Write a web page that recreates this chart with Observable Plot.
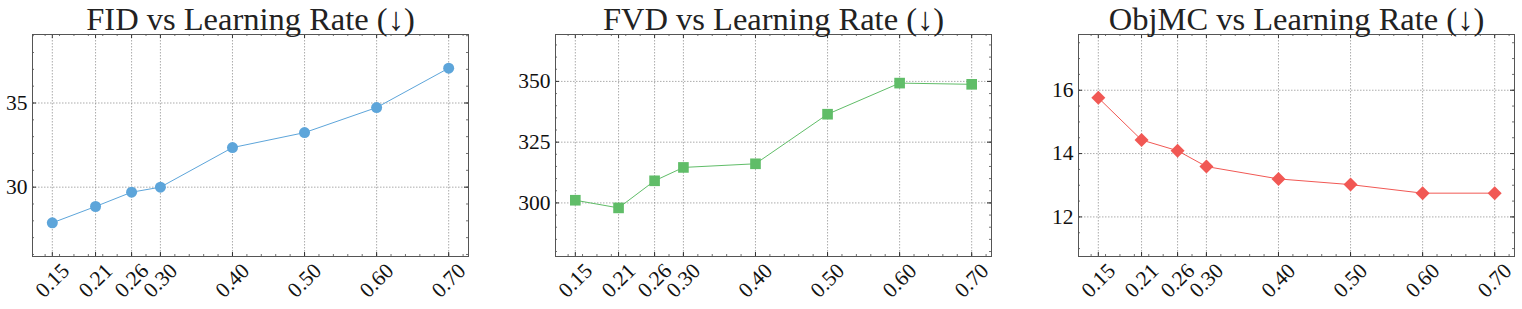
<!DOCTYPE html>
<html>
<head>
<meta charset="utf-8">
<script src="https://cdn.jsdelivr.net/npm/d3@7"></script>
<script src="https://cdn.jsdelivr.net/npm/@observablehq/plot@0.6"></script>
<style>
  html, body { margin: 0; padding: 0; background: #fff; }
  #root { position: relative; width: 1522px; height: 309px; overflow: hidden; background: #fff; }
</style>
</head>
<body>
<div id="root"></div>
<script>
// ---- data ----
const lr = [0.15, 0.21, 0.26, 0.30, 0.40, 0.50, 0.60, 0.70];
const lrLabels = ["0.15", "0.21", "0.26", "0.30", "0.40", "0.50", "0.60", "0.70"];
const fid = [27.88, 28.85, 29.70, 30.00, 32.35, 33.24, 34.73, 37.07];
const fvd = [301.1, 297.95, 309.1, 314.6, 316.1, 336.5, 349.3, 348.8];
const objmc = [15.76, 14.43, 14.09, 13.59, 13.20, 13.02, 12.75, 12.75];
const fidTicks = [30, 35];
const fvdTicks = [300, 325, 350];
const objmcTicks = [12, 14, 16];
const titles = ["FID vs Learning Rate (\u2193)", "FVD vs Learning Rate (\u2193)", "ObjMC vs Learning Rate (\u2193)"];

const FONT = '"Liberation Serif", "DejaVu Serif", serif';
const W = 436, H = 222;
const xdom = [0.1225, 0.7275];
const xMinor = d3.range(7, 37).map(k => k * 0.02);

const diamond = {
  draw(ctx, size) {
    const r = Math.sqrt(size) * 0.62625;
    ctx.moveTo(0, -r); ctx.lineTo(r, 0); ctx.lineTo(0, r); ctx.lineTo(-r, 0); ctx.closePath();
  }
};

function panel({title, values, color, symbol, r, yMajor, yMinorStep, pad, left}) {
  const data = lr.map((x, i) => ({x, y: values[i]}));
  const ydom = [d3.min(values) - pad, d3.max(values) + pad];
  const k0 = Math.ceil(ydom[0] / yMinorStep), k1 = Math.floor(ydom[1] / yMinorStep);
  const yMinor = d3.range(k0, k1 + 1).map(k => k * yMinorStep);
  const tickStroke = "#333";
  const plot = Plot.plot({
    width: W + 80, height: 309,
    marginLeft: 60, marginRight: 20, marginTop: 34, marginBottom: 53,
    x: {domain: xdom, axis: null},
    y: {domain: ydom, axis: null},
    style: {background: "transparent", fontFamily: FONT, overflow: "visible"},
    marks: [
      Plot.gridX(lr, {x: d => d, stroke: "#888", strokeOpacity: 1, strokeWidth: 0.7, strokeDasharray: "1.5,1.5"}),
      Plot.gridY(yMajor, {y: d => d, stroke: "#888", strokeOpacity: 1, strokeWidth: 0.7, strokeDasharray: "1.5,1.5"}),
      // minor ticks
      Plot.ruleX(xMinor, {x: d => d, insetTop: H - 2, stroke: tickStroke, strokeWidth: 0.7}),
      Plot.ruleX(xMinor, {x: d => d, insetBottom: H - 2, stroke: tickStroke, strokeWidth: 0.7}),
      Plot.ruleY(yMinor, {y: d => d, insetRight: W - 2, stroke: tickStroke, strokeWidth: 0.7}),
      Plot.ruleY(yMinor, {y: d => d, insetLeft: W - 2, stroke: tickStroke, strokeWidth: 0.7}),
      // major ticks
      Plot.ruleX(lr, {x: d => d, insetTop: H - 4, stroke: tickStroke, strokeWidth: 1}),
      Plot.ruleX(lr, {x: d => d, insetBottom: H - 4, stroke: tickStroke, strokeWidth: 1}),
      Plot.ruleY(yMajor, {y: d => d, insetRight: W - 4, stroke: tickStroke, strokeWidth: 1}),
      Plot.ruleY(yMajor, {y: d => d, insetLeft: W - 4, stroke: tickStroke, strokeWidth: 1}),
      Plot.frame({stroke: "#555", strokeWidth: 1}),
      Plot.line(data, {x: "x", y: "y", stroke: color, strokeWidth: 1}),
      Plot.dot(data, {x: "x", y: "y", fill: color, stroke: "none", symbol, r}),
      // tick labels
      Plot.text(lr, {x: d => d, frameAnchor: "bottom", dy: 24, rotate: -45, text: (d, i) => lrLabels[i],
        textAnchor: "middle", lineAnchor: "middle", fontSize: 21.5, fill: "#111", fontFamily: FONT}),
      Plot.text(yMajor, {y: d => d, frameAnchor: "left", dx: -5, text: d => String(d),
        textAnchor: "end", lineAnchor: "middle", fontSize: 21.5, fill: "#111", fontFamily: FONT}),
      Plot.text([title], {frameAnchor: "top", dy: -15, text: d => d, textAnchor: "middle", lineAnchor: "middle",
        fontSize: 32.5, fill: "#222", fontFamily: FONT})
    ]
  });
  plot.style.position = "absolute";
  plot.style.left = left + "px";
  plot.style.top = "0px";
  plot.style.maxWidth = "none";
  document.getElementById("root").appendChild(plot);
}

panel({title: titles[0], values: fid, color: "#5DA5DA", symbol: "circle", r: 5.5, yMajor: fidTicks, yMinorStep: 1, pad: 2, left: 32 - 60});
panel({title: titles[1], values: fvd, color: "#60BD68", symbol: "square", r: 6, yMajor: fvdTicks, yMinorStep: 5, pad: 20, left: 555 - 60});
panel({title: titles[2], values: objmc, color: "#F15854", symbol: diamond, r: 6.3, yMajor: objmcTicks, yMinorStep: 0.5, pad: 2, left: 1078 - 60});
</script>
</body>
</html>
